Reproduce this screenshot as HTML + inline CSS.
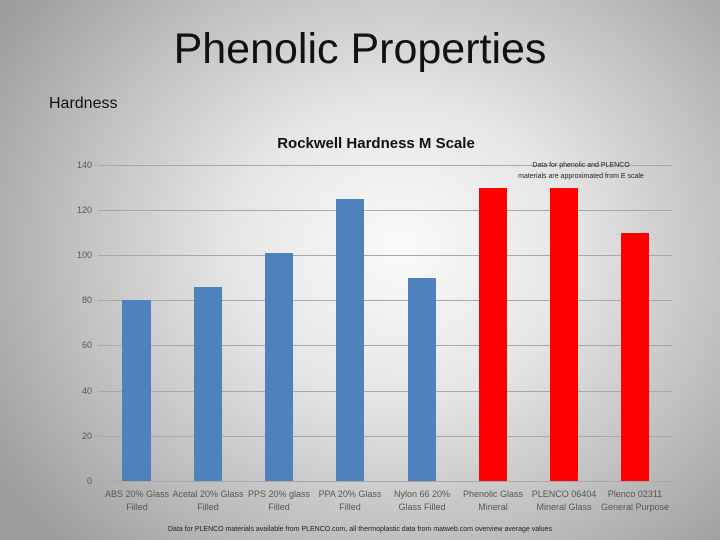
<!DOCTYPE html>
<html><head><style>
html,body{margin:0;padding:0}
body{width:720px;height:540px;overflow:hidden;position:relative;font-family:"Liberation Sans",sans-serif;
background:radial-gradient(ellipse 480px 420px at 400px 250px,#fafafa 0%,#e6e6e6 35%,#c4c4c4 65%,#9c9c9c 100%);}
.t{position:absolute;white-space:nowrap}
</style></head><body>
<div class="t" style="left:0;width:720px;text-align:center;top:25px;font-size:43px;color:#111">Phenolic Properties</div>
<div class="t" style="left:49px;top:95px;font-size:16px;color:#111">Hardness</div>
<svg width="720" height="540" style="position:absolute;left:0;top:0" font-family="Liberation Sans, sans-serif">
<text x="376" y="148" text-anchor="middle" font-size="15" font-weight="bold" fill="#111">Rockwell Hardness M Scale</text>
<g stroke="#a8a8a8" stroke-width="1">
<line x1="98" x2="672" y1="165.5" y2="165.5"/><line x1="98" x2="672" y1="210.5" y2="210.5"/>
<line x1="98" x2="672" y1="255.5" y2="255.5"/><line x1="98" x2="672" y1="300.5" y2="300.5"/>
<line x1="98" x2="672" y1="345.5" y2="345.5"/><line x1="98" x2="672" y1="391.5" y2="391.5"/>
<line x1="98" x2="672" y1="436.5" y2="436.5"/><line x1="98" x2="672" y1="481.5" y2="481.5"/>
</g>
<g font-size="9" fill="#555" text-anchor="end">
<text x="92" y="168">140</text><text x="92" y="213">120</text><text x="92" y="258">100</text>
<text x="92" y="303">80</text><text x="92" y="348">60</text><text x="92" y="394">40</text>
<text x="92" y="439">20</text><text x="92" y="484">0</text>
</g>
<g fill="#4f81bd">
<rect x="122" y="300" width="29" height="181"/><rect x="194" y="287" width="28" height="194"/>
<rect x="265" y="253" width="28" height="228"/><rect x="336" y="199" width="28" height="282"/>
<rect x="408" y="278" width="28" height="203"/>
</g>
<g fill="#ff0000">
<rect x="479" y="188" width="28" height="293"/><rect x="550" y="188" width="28" height="293"/>
<rect x="621" y="233" width="28" height="248"/>
</g>
<g font-size="9" fill="#555" text-anchor="middle">
<text x="137" y="497">ABS 20% Glass</text><text x="137" y="510">Filled</text>
<text x="208" y="497">Acetal 20% Glass</text><text x="208" y="510">Filled</text>
<text x="279" y="497">PPS 20% glass</text><text x="279" y="510">Filled</text>
<text x="350" y="497">PPA 20% Glass</text><text x="350" y="510">Filled</text>
<text x="422" y="497">Nylon 66 20%</text><text x="422" y="510">Glass Filled</text>
<text x="493" y="497">Phenolic Glass</text><text x="493" y="510">Mineral</text>
<text x="564" y="497">PLENCO 06404</text><text x="564" y="510">Mineral Glass</text>
<text x="635" y="497">Plenco 02311</text><text x="635" y="510">General Purpose</text>
</g>
<g font-size="7" fill="#222" text-anchor="middle">
<text x="581" y="167">Data for phenolic and PLENCO</text>
<text x="581" y="178">materials are approximated from E scale</text>
<text x="360" y="531">Data for PLENCO materials available from PLENCO.com, all thermoplastic data from matweb.com overview average values</text>
</g>
</svg>
</body></html>
